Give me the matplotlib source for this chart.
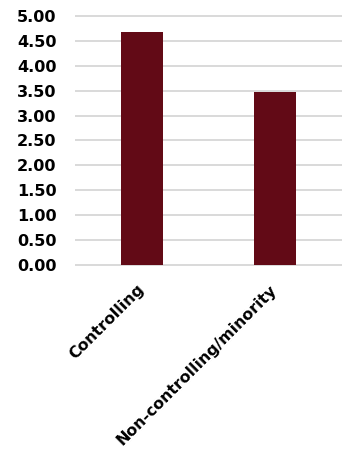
import matplotlib
matplotlib.use("Agg")
import matplotlib.pyplot as plt

categories = ["Controlling", "Non-controlling/minority"]
values = [4.68, 3.48]
yticks = [0.0, 0.5, 1.0, 1.5, 2.0, 2.5, 3.0, 3.5, 4.0, 4.5, 5.0]

plt.rcParams['font.family'] = ['DejaVu Sans']

fig = plt.figure(figsize=(3.46, 4.55), dpi=100)
ax = fig.add_axes([76/346, (455-265)/455, (341-76)/346, (265-16)/455])

ax.bar(range(len(categories)), values, width=0.317, color="#620a16", zorder=3)
ax.set_xlim(-0.5, len(categories) - 0.5)
ax.set_ylim(0, 5)
ax.set_yticks(yticks)
ax.set_yticklabels([f"{v:.2f}" for v in yticks], fontsize=11.6, fontweight='bold')
ax.set_xticks(range(len(categories)))
ax.set_xticklabels(categories, rotation=45, ha='right', va='center', rotation_mode='anchor',
                   fontsize=11.3, fontweight='bold')
ax.tick_params(axis='y', length=0, pad=14)
ax.tick_params(axis='x', length=0, pad=16)
ax.grid(axis='y', color='#d9d9d9', linewidth=1.4, zorder=0)
for gl in ax.get_ygridlines():
    gl.set_clip_on(False)
for s in ax.spines.values():
    s.set_visible(False)

fig.savefig("out.png", dpi=100)
